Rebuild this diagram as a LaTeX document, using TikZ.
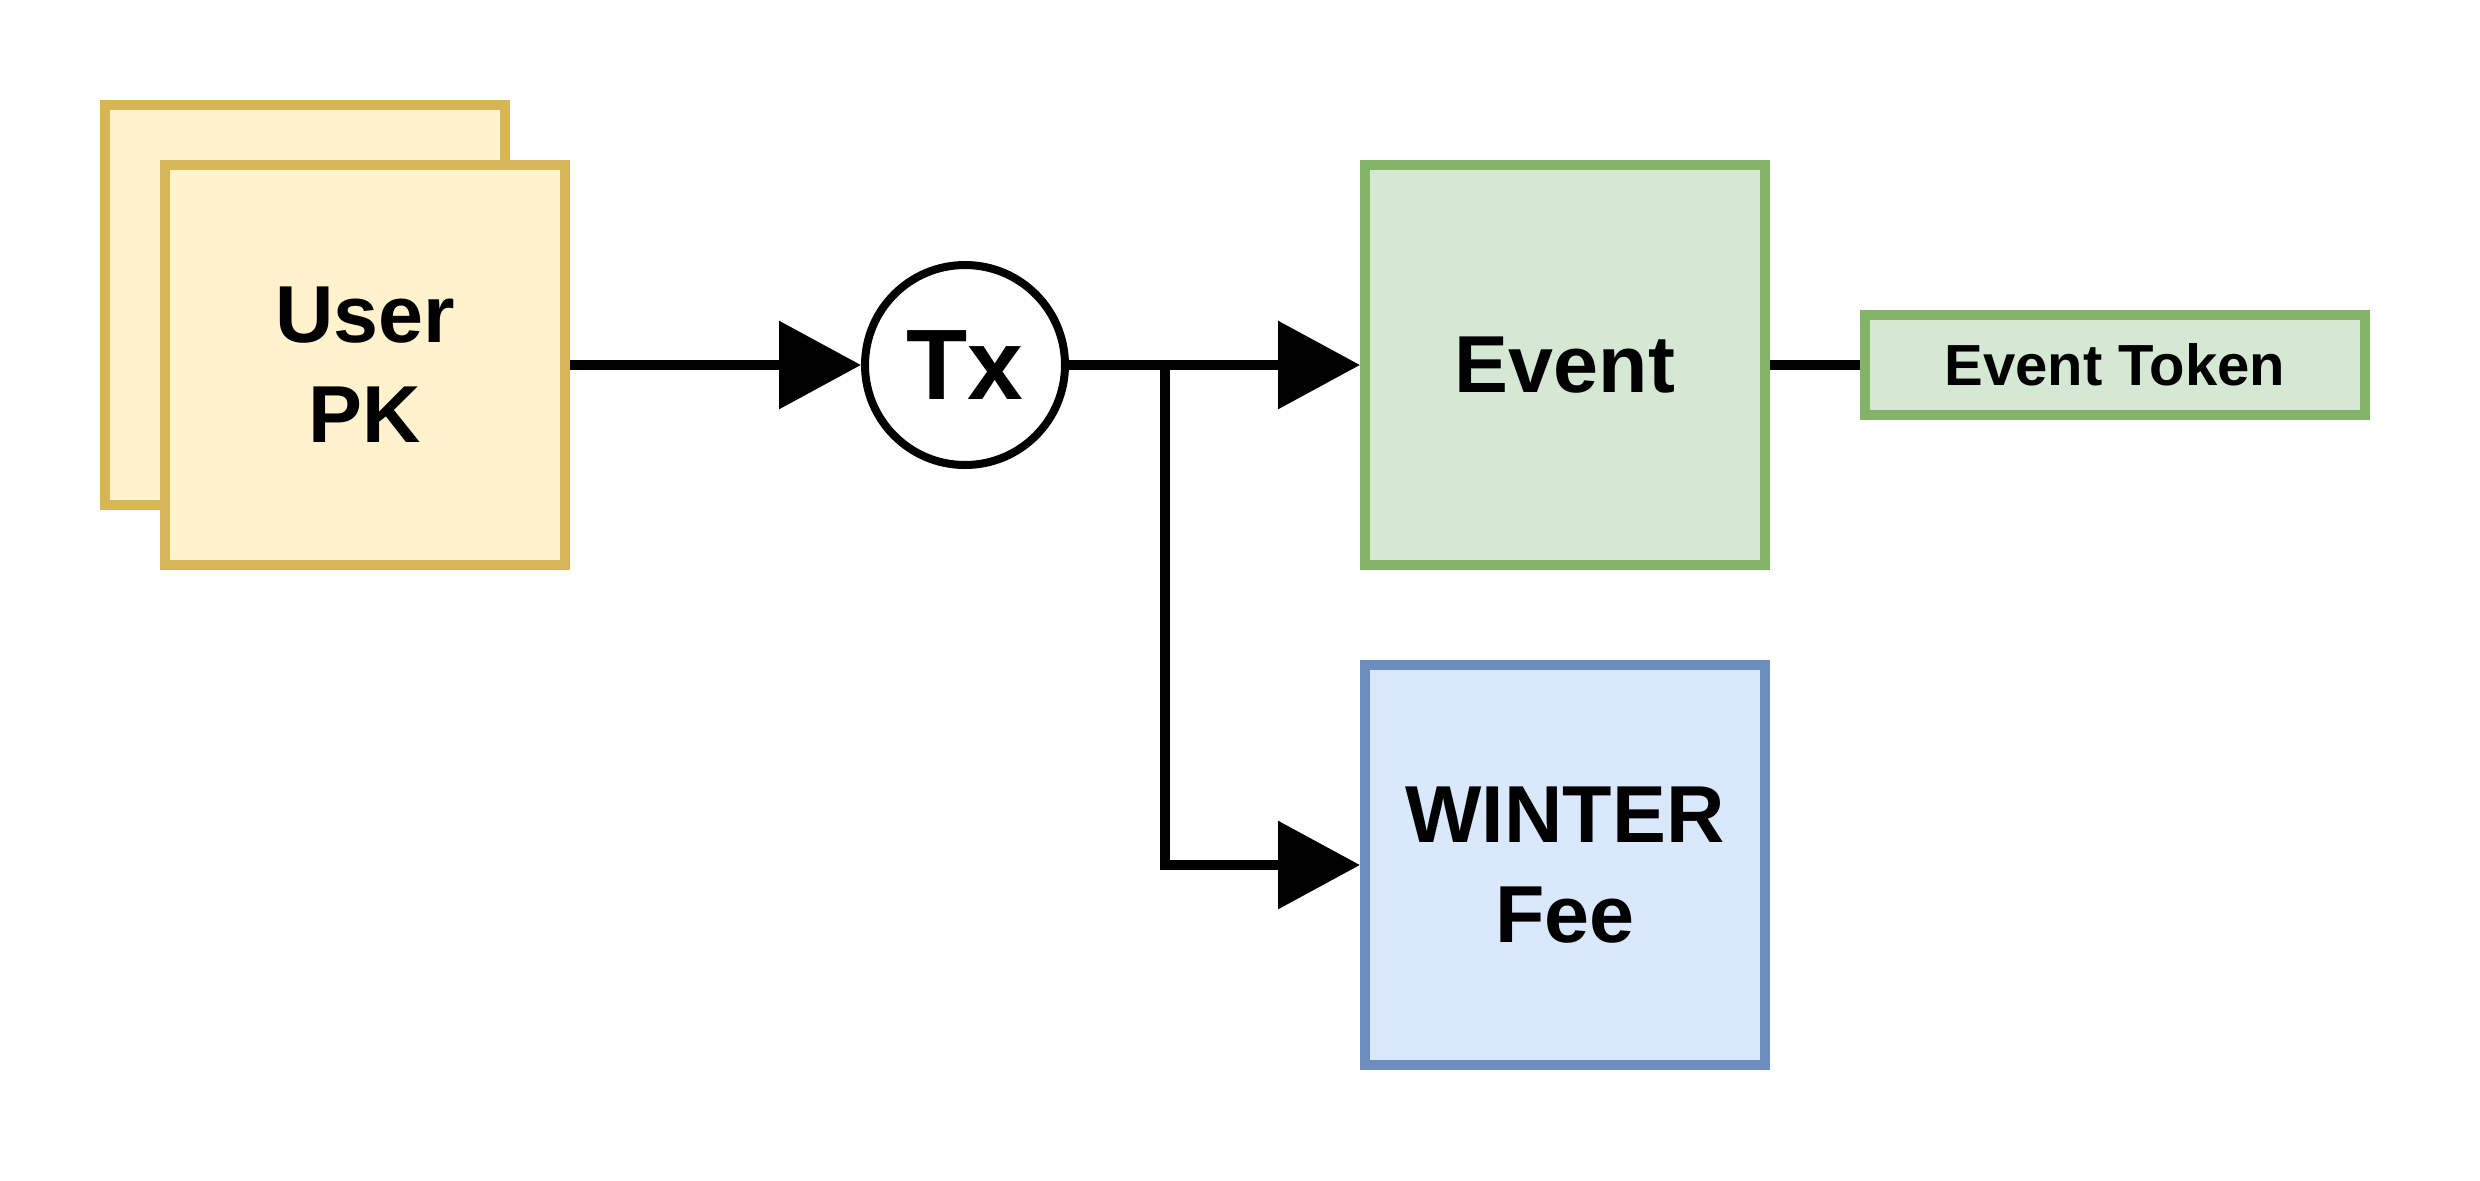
\documentclass[tikz,border=0pt]{standalone}
\usepackage{fontspec}
\setmainfont{Liberation Sans}
\usetikzlibrary{arrows.meta}
\definecolor{yelfill}{HTML}{FFF2CC}
\definecolor{yelline}{HTML}{D6B656}
\definecolor{grnfill}{HTML}{D5E8D4}
\definecolor{grnline}{HTML}{82B366}
\definecolor{blufill}{HTML}{DAE8FC}
\definecolor{bluline}{HTML}{6C8EBF}
\tikzset{
	box/.style={rectangle,line width=0.1cm,minimum width=4cm,minimum height=4cm,align=center,font=\bfseries\fontsize{23}{28.45}\selectfont},
	userbox/.style={box,draw=yelline,fill=yelfill},
	evbox/.style={box,draw=grnline,fill=grnfill},
	feebox/.style={box,draw=bluline,fill=blufill},
	arr/.style={line width=0.1cm,-{Triangle[length=0.82cm,width=0.86cm]}}
}
\begin{document}
\begin{tikzpicture}
	\useasboundingbox (0,0) rectangle (24.8,-11.8);
	\node[userbox] (userback) at (3.05,-3.05) {};
	\node[userbox] (user) at (3.65,-3.65) {User\\PK};
	\node[circle,draw,line width=0.08cm,minimum size=2cm,inner sep=0pt,font=\bfseries\fontsize{28.5}{34}\selectfont] (tx) at (9.65,-3.65) {Tx};
	\node[evbox] (event) at (15.65,-3.65) {Event};
	\node[feebox] (fee) at (15.65,-8.65) {WINTER\\Fee};
	\node[evbox,minimum width=5cm,minimum height=1cm,font=\bfseries\fontsize{16.5}{20}\selectfont] (token) at (21.15,-3.65) {Event Token};
	\coordinate (split) at (11.65,-3.65);
	\draw[arr] (user.east) -- (tx.west);
	\draw[arr] (tx.east) -- (event.west);
	\draw[arr] (tx.east) -- (split) |- (fee.west);
	\draw[line width=0.1cm] (event.east) -- (token.west);
\end{tikzpicture}
\end{document}
